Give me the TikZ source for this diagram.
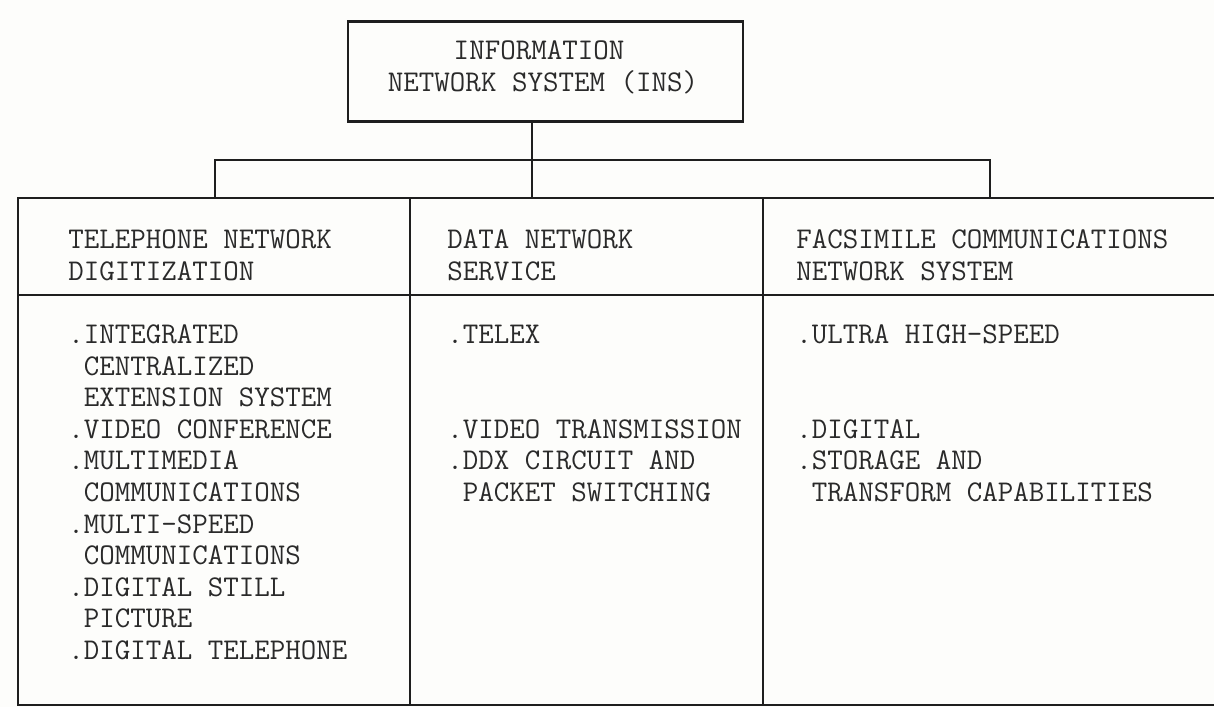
\documentclass[tikz,border=0pt]{standalone}
\usepackage{fontspec}
\definecolor{ink}{HTML}{1E1E1E}
\definecolor{type}{HTML}{2A2A2A}
\definecolor{paper}{HTML}{FDFDFB}

\begin{document}
\begin{tikzpicture}[x=0.5pt,y=-0.5pt,
  rule/.style={draw=ink, line width=1.4pt},
  cell/.style={rule, rectangle, inner sep=0pt, outer sep=0pt, anchor=north west},
  txt/.style={inner sep=0pt, anchor=base west, text=type,
    font=\ttfamily\fontsize{15.05pt}{16pt}\selectfont},
]
\fill[paper] (0,0) rectangle (1214,707);
\useasboundingbox (0,0) rectangle (1214,707);
\clip (0,0) rectangle (1214,707);

% top-level system box
\node[cell, anchor=center, minimum width=197.5pt, minimum height=50pt] (ins) at (545.5,71.5) {};
\node[txt, anchor=base] (insA) at (539,59) {INFORMATION};
\node[txt, anchor=base] (insB) at (543,91) {NETWORK SYSTEM (INS)};

% table: header row and body row of three columns
\node[cell, minimum width=196pt,   minimum height=48.5pt] (h1) at (18,198) {};
\node[cell, minimum width=176.5pt, minimum height=48.5pt] (h2) at (410,198) {};
\node[cell, minimum width=240pt,   minimum height=48.5pt] (h3) at (763,198) {};
\node[cell, minimum width=196pt,   minimum height=205pt] (b1) at (18,295) {};
\node[cell, minimum width=176.5pt, minimum height=205pt] (b2) at (410,295) {};
\node[cell, minimum width=240pt,   minimum height=205pt] (b3) at (763,295) {};

% branching connector
\coordinate (trunk) at (532,198);
\coordinate (bar) at (0,160);
\coordinate (dropL) at (215,198);
\coordinate (dropR) at (990,198);
\draw[rule] (ins.south -| trunk) -- (trunk);
\draw[rule] (dropL) -- (dropL |- bar) -- (dropR |- bar) -- (dropR);

% column headings
\node[txt] (t1a) at (68,248.5) {TELEPHONE NETWORK};
\node[txt] (t1b) at (68,280.5) {DIGITIZATION};
\node[txt] (t2a) at (447,248.5) {DATA NETWORK};
\node[txt] (t2b) at (447,280.5) {SERVICE};
\node[txt] (t3a) at (796,248.5) {FACSIMILE COMMUNICATIONS};
\node[txt] (t3b) at (796,280.5) {NETWORK SYSTEM};

% column items
\foreach \r/\t in {0/.INTEGRATED, 1/{\hphantom{.}CENTRALIZED}, 2/{\hphantom{.}EXTENSION SYSTEM},
  3/.VIDEO CONFERENCE, 4/.MULTIMEDIA, 5/{\hphantom{.}COMMUNICATIONS}, 6/.MULTI-SPEED,
  7/{\hphantom{.}COMMUNICATIONS}, 8/.DIGITAL STILL, 9/{\hphantom{.}PICTURE}, 10/.DIGITAL TELEPHONE}
  \node[txt] (a\r) at ({68},{343.5+31.6*\r}) {\t};
\foreach \r/\t in {0/.TELEX, 3/.VIDEO TRANSMISSION, 4/.DDX CIRCUIT AND, 5/{\hphantom{.}PACKET SWITCHING}}
  \node[txt] (d\r) at ({447},{343.5+31.6*\r}) {\t};
\foreach \r/\t in {0/.ULTRA HIGH-SPEED, 3/.DIGITAL, 4/.STORAGE AND, 5/{\hphantom{.}TRANSFORM CAPABILITIES}}
  \node[txt] (f\r) at ({796},{343.5+31.6*\r}) {\t};
\end{tikzpicture}
\end{document}
